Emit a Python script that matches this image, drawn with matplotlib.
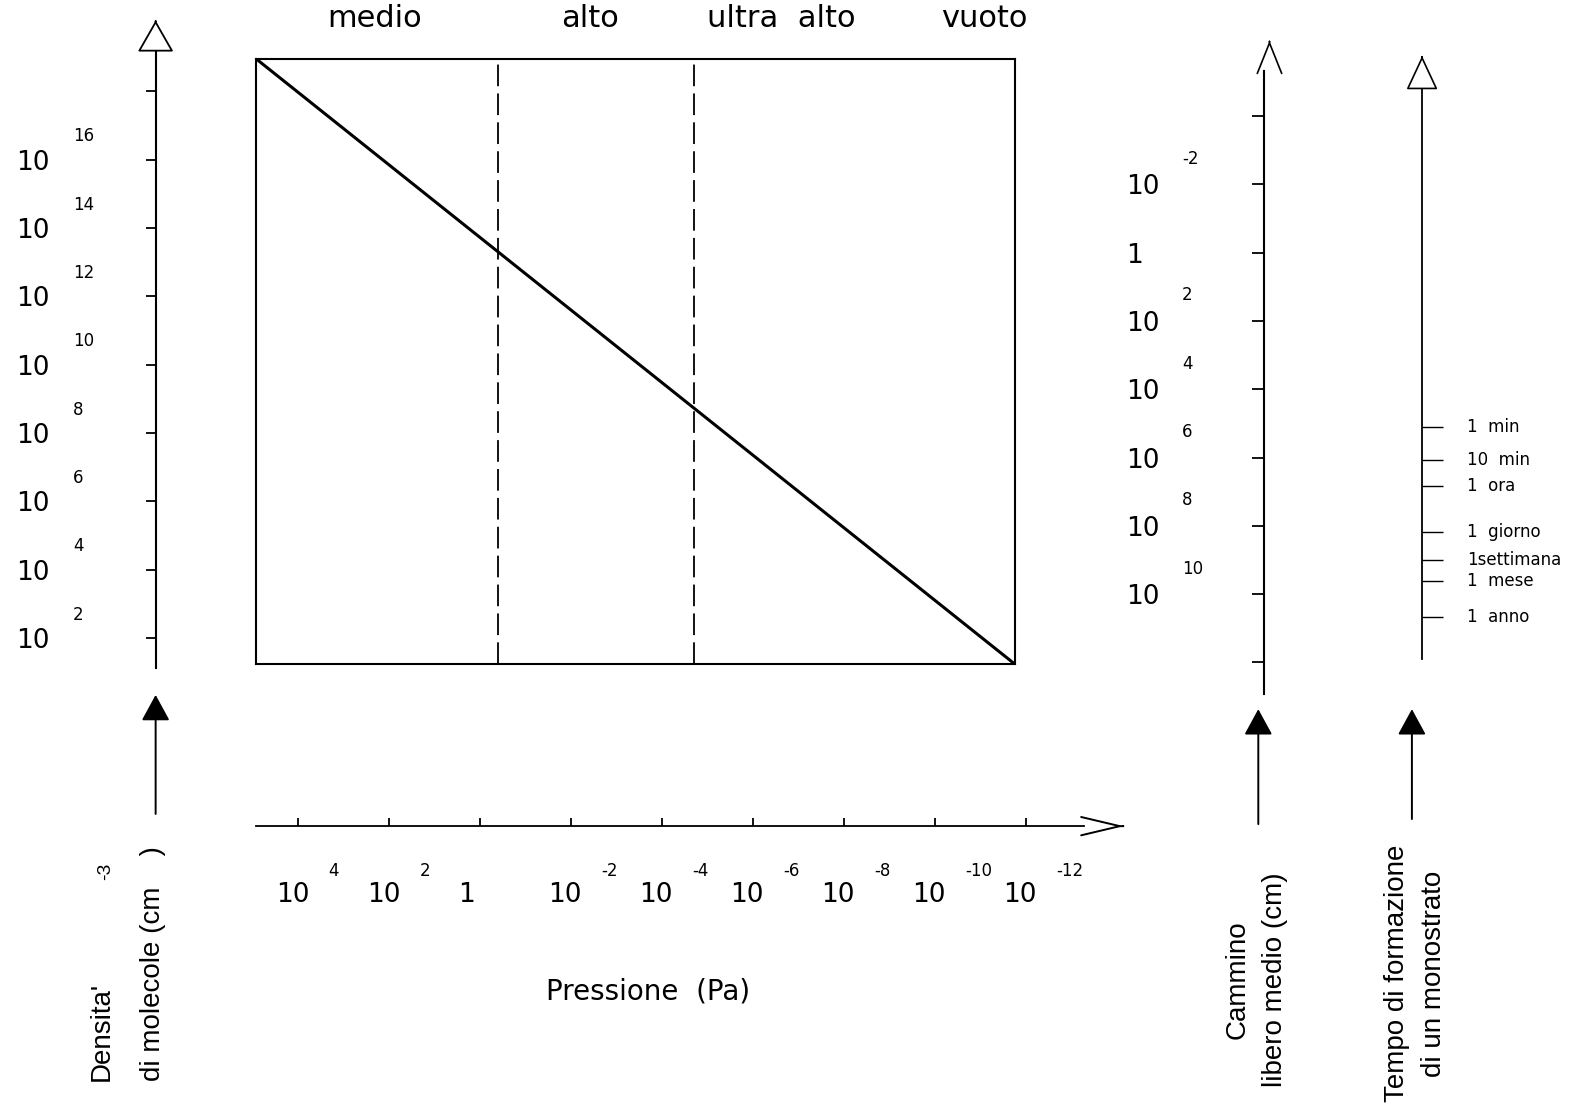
import numpy as np
import matplotlib
matplotlib.use("Agg")
import matplotlib.pyplot as plt
from matplotlib import transforms as mtransforms
from matplotlib.ticker import NullLocator
from matplotlib.patches import FancyArrowPatch

# --- dati ---
pressione_diag = [8.3e4, 1.7e-12]      # Pa, estremi della retta
densita_diag = [8.9e18, 1.7e1]         # molecole / cm^3
limiti_regimi = [4e-1, 2e-5]           # Pa, medio|alto e alto|ultra alto
regimi = ["medio", "alto", "ultra  alto", "vuoto"]

tick_pressione = [1e4, 1e2, 1e0, 1e-2, 1e-4, 1e-6, 1e-8, 1e-10, 1e-12]
esp_pressione = ["4", "2", "", "-2", "-4", "-6", "-8", "-10", "-12"]

tick_densita = [1e2, 1e4, 1e6, 1e8, 1e10, 1e12, 1e14, 1e16, 1e18]
esp_densita = ["2", "4", "6", "8", "10", "12", "14", "16", ""]

tick_cammino = [1e-4, 1e-2, 1e0, 1e2, 1e4, 1e6, 1e8, 1e10, 1e12]
base_cammino = ["", "10", "1", "10", "10", "10", "10", "10", ""]
esp_cammino = ["", "-2", "", "2", "4", "6", "8", "10", ""]

tempi_s = [60, 600, 3600, 86400, 604800, 2.63e6, 3.156e7]
etichette_tempo = ["1  min", "10  min", "1  ora", "1  giorno", "1settimana", "1  mese", "1  anno"]

# font stretto per le etichette ruotate
STRETTO = {"family": "Liberation Sans", "fontsize": 20}

# coordinate di riferimento (immagine 1568x1090)
W0, H0 = 1568, 1090
S = 1595 / 1568


def fx(x):
    return x / W0


def fy(y):
    return 1 - y / H0


def rect(x0, y0, x1, y1):
    return [fx(x0), fy(y1), (x1 - x0) / W0, (y1 - y0) / H0]


def solo_spina(ax, lato, lw=1.5):
    for k, s in ax.spines.items():
        s.set_visible(k == lato)
        s.set_linewidth(lw)
    ax.patch.set_visible(False)


fig = plt.figure(figsize=(15.95, 11.09), dpi=100)


def freccia(coda, punta, stile, lung, semi, fc="black", lw=1.4):
    mm = 72 / fig.dpi * S
    st = f"{stile},head_length={lung * mm:.2f},head_width={semi * mm:.2f}"
    a = FancyArrowPatch((fx(coda[0]), fy(coda[1])), (fx(punta[0]), fy(punta[1])),
                        transform=fig.transFigure, arrowstyle=st, mutation_scale=1,
                        fc=fc, ec="black", lw=lw, shrinkA=0, shrinkB=0)
    fig.add_artist(a)


# --- riquadro principale ---
ax = fig.add_axes(rect(252, 58, 998, 653))
ax.set_xscale("log")
ax.set_yscale("log")
ax.plot(pressione_diag, densita_diag, color="black", lw=2.2)
for p in limiti_regimi:
    ax.axvline(p, color="black", lw=1.3, ls=(0, (12, 4)))
ax.set_xlim(pressione_diag[0], pressione_diag[1])
ax.set_ylim(densita_diag[1], densita_diag[0])
ax.tick_params(which="both", left=False, bottom=False, labelleft=False, labelbottom=False)
for s in ax.spines.values():
    s.set_linewidth(1.5)

for nome, x in zip(regimi, [368, 580, 768, 968]):
    fig.text(fx(x), fy(18), nome, ha="center", va="center", fontsize=22)

dec_x = (998 - 252) / np.log10(pressione_diag[0] / pressione_diag[1])
dec_y = (653 - 58) / np.log10(densita_diag[0] / densita_diag[1])

# --- asse delle pressioni ---
axp = fig.add_axes(rect(252, 770, 1066, 812))
axp.set_xscale("log")
axp.set_xlim(pressione_diag[0], 10 ** (np.log10(pressione_diag[0]) - (1066 - 252) / dec_x))
axp.set_yticks([])
solo_spina(axp, "bottom", 1.3)
axp.set_xticks(tick_pressione)
axp.xaxis.set_minor_locator(NullLocator())
axp.tick_params(axis="x", direction="in", length=6, width=1.3, labelbottom=False)
tr = mtransforms.blended_transform_factory(axp.transData, fig.transFigure)
for v, e in zip(tick_pressione, esp_pressione):
    axp.text(v, fy(880), "10" if e else "1", fontsize=19, ha="left", va="center",
             transform=mtransforms.offset_copy(tr, fig, x=-22 * S, units="dots"))
    if e:
        axp.text(v, fy(856), e, fontsize=12, ha="left", va="center",
                 transform=mtransforms.offset_copy(tr, fig, x=30 * S, units="dots"))
freccia((1104, 812), (1105, 812), "->", 38, 9)
fig.text(fx(637), fy(975), "Pressione  (Pa)", ha="center", va="center", fontsize=20)

# --- asse densita' ---
axd = fig.add_axes(rect(153, 48, 230, 657))
axd.set_yscale("log")
axd.set_ylim(10 ** (np.log10(densita_diag[1]) - (657 - 653) / dec_y),
             10 ** (np.log10(densita_diag[0]) + (58 - 48) / dec_y))
axd.set_xticks([])
solo_spina(axd, "left", 1.5)
axd.set_yticks(tick_densita)
axd.yaxis.set_minor_locator(NullLocator())
axd.tick_params(axis="y", direction="out", length=7.5, width=1.3, labelleft=False)
tr = mtransforms.blended_transform_factory(fig.transFigure, axd.transData)
for v, e in zip(tick_densita, esp_densita):
    if not e:
        continue
    axd.text(fx(16), v, "10", fontsize=19, ha="left", va="center",
             transform=mtransforms.offset_copy(tr, fig, y=-3 * S, units="dots"))
    axd.text(fx(72), v, e, fontsize=12, ha="left", va="center",
             transform=mtransforms.offset_copy(tr, fig, y=23 * S, units="dots"))
freccia((153, 21), (153, 20), "-|>", 28, 16, fc="white", lw=1.3)
freccia((153, 800), (153, 683), "-|>", 22, 12)
fig.text(fx(100), fy(1062), "Densita'", rotation=90, ha="center", va="bottom", **STRETTO)
fig.text(fx(150), fy(1062), "di molecole (cm    )", rotation=90, ha="center", va="bottom", **STRETTO)
fig.text(fx(104), fy(856), "-3", rotation=90, ha="center", va="center", family="Liberation Sans",
         fontsize=14)

# --- cammino libero medio ---
axc = fig.add_axes(rect(1243, 70, 1300, 682))
axc.set_yscale("log")
axc.set_ylim(10 ** 12.92, 10 ** -5.31)
axc.set_xticks([])
solo_spina(axc, "left", 1.5)
axc.set_yticks(tick_cammino)
axc.yaxis.set_minor_locator(NullLocator())
axc.tick_params(axis="y", direction="out", length=8.5, width=1.3, labelleft=False)
tr = mtransforms.blended_transform_factory(fig.transFigure, axc.transData)
for v, b, e in zip(tick_cammino, base_cammino, esp_cammino):
    if b:
        axc.text(fx(1107), v, b, fontsize=19, ha="left", va="center",
                 transform=mtransforms.offset_copy(tr, fig, y=-3 * S, units="dots"))
    if e:
        axc.text(fx(1162), v, e, fontsize=12, ha="left", va="center",
                 transform=mtransforms.offset_copy(tr, fig, y=25 * S, units="dots"))
freccia((1248, 41), (1248, 40), "->", 30, 12, lw=1.2)
freccia((1237, 810), (1237, 697), "-|>", 22, 12)
fig.text(fx(1235), fy(963), "Cammino\nlibero medio (cm)", rotation=90, ha="center", va="center",
         multialignment="center", linespacing=1.55, **STRETTO)

# --- tempo di formazione di un monostrato ---
axt = fig.add_axes(rect(1398, 85, 1460, 648))
axt.set_yscale("log")
axt.set_ylim(10 ** 8.79, 10 ** -8.53)
axt.set_xticks([])
solo_spina(axt, "left", 1.3)
axt.set_yticks(tempi_s)
axt.yaxis.set_minor_locator(NullLocator())
axt.tick_params(axis="y", direction="in", length=15, width=1.0, labelleft=False)
tr = mtransforms.blended_transform_factory(fig.transFigure, axt.transData)
for v, t in zip(tempi_s, etichette_tempo):
    axt.text(fx(1442), v, t, fontsize=12, ha="left", va="center", transform=tr)
freccia((1398, 56), (1398, 55), "-|>", 30, 14, fc="white", lw=1.2)
freccia((1388, 805), (1388, 697), "-|>", 22, 12)
fig.text(fx(1392), fy(957), "Tempo di formazione\ndi un monostrato", rotation=90, ha="center",
         va="center", multialignment="center", linespacing=1.55, **STRETTO)

fig.savefig("out.png", dpi=100)
